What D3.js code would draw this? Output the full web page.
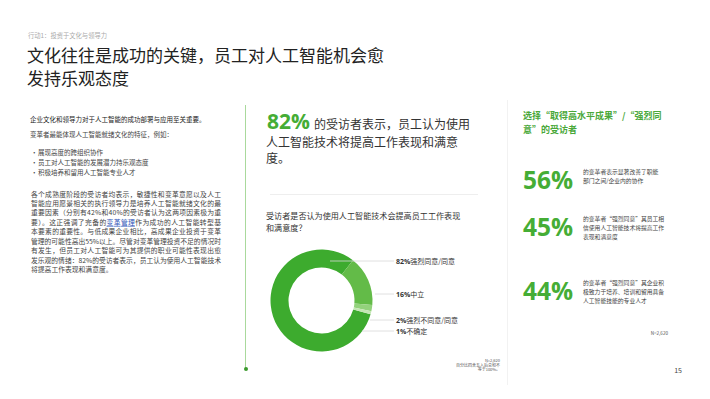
<!DOCTYPE html>
<meta charset="utf-8">
<style>
  body { margin: 0; background: #fff; }
  text { font-family: "Noto Sans CJK SC", "Noto Sans", sans-serif; }
  .num { font-family: "Open Sans", "Noto Sans", sans-serif; font-weight: 700; }
</style>
<svg width="710" height="399"></svg>
<script src="https://d3js.org/d3.v7.min.js"></script>
<script>

var svg = d3.select("svg"),
    width = 710,
    height = 399;

// ---- data ----
var donutLabels = ["强烈同意/同意", "中立", "强烈不同意/同意", "不确定"];
var donutValues = [82, 16, 2, 1];
var donutColors = ["#3dab2e", "#63bb48", "#93d27c", "#c4e6b4"];

var statValues = [56, 45, 44];
var statTexts = [
  ["的变革者表示显著改善了职能", "部门之间/企业内的协作"],
  ["的变革者“强烈同意”其员工相", "信使用人工智能技术将提高工作", "表现和满意度"],
  ["的变革者“强烈同意”其企业积", "极致力于培养、培训和留用具备", "人工智能技能的专业人才"]
];

var bullets = ["展现高度的跨组织协作", "员工对人工智能的发展潜力持乐观态度", "积极培养和留用人工智能专业人才"];
var para = [
  "各个成熟度阶段的受访者均表示，敏捷性和变革意愿以及人工",
  "智能应用愿景相关的执行领导力是培养人工智能就绪文化的最",
  "重要因素（分别有42%和40%的受访者认为这两项因素极为重",
  "要）。这正强调了完备的|变革管理|作为成功的人工智能转型基",
  "本要素的重要性。与低成果企业相比，高成果企业投资于变革",
  "管理的可能性高出55%以上。尽管对变革管理投资不足的情况时",
  "有发生，但员工对人工智能可为其提供的职业可能性表现出愈",
  "发乐观的情绪：82%的受访者表示，员工认为使用人工智能技术",
  "将提高工作表现和满意度。"
];
var footLines = ["N=2,620", "百分比四舍五入后总和不", "等于100%。"];

var green = "#45ad35";

svg.append("rect").attr("width", width).attr("height", height).attr("fill", "#fff");

// small text helper: draw at double size then scale down, so tiny fonts stay tiny
function tiny(x, y, size, txt, anchor, fill) {
  return svg.append("text")
    .attr("transform", "translate(" + x + "," + y + ") scale(0.5)")
    .attr("font-size", size * 2).attr("text-anchor", anchor || "start")
    .attr("fill", fill || "#444").text(txt);
}

// ---- header ----
tiny(28, 38, 6.3, "行动1：投资于文化与领导力", "start", "#aaa");

svg.append("text").attr("x", 27).attr("y", 62)
  .attr("font-size", 17).attr("fill", "#222")
  .text("文化往往是成功的关键，员工对人工智能机会愈");
svg.append("text").attr("x", 27).attr("y", 85)
  .attr("font-size", 17).attr("fill", "#222")
  .text("发持乐观态度");

// ---- left column ----
tiny(30, 121.5, 6.5, "企业文化和领导力对于人工智能的成功部署与应用至关重要。", "start", "#222");
tiny(30, 137, 6.5, "变革者最能体现人工智能就绪文化的特征，例如：");

bullets.forEach(function(b, i) {
  var y = 155 + i * 10.2;
  tiny(31, y, 6.5, "•");
  tiny(38, y, 6.5, b);
});

para.forEach(function(line, i) {
  var t = svg.append("text").attr("x", 31).attr("y", 196.5 + i * 9.45)
    .attr("font-size", 6.8).attr("fill", "#444");
  if (i < para.length - 1) t.attr("textLength", 190).attr("lengthAdjust", "spacing");
  line.split("|").forEach(function(part, j) {
    var s = t.append("tspan").text(part);
    if (j === 1) s.attr("fill", "#2f55b8").attr("text-decoration", "underline");
  });
});

// divider with dot
svg.append("line").attr("x1", 245.5).attr("x2", 245.5).attr("y1", 105).attr("y2", 369)
  .attr("stroke", "#a9d99c").attr("stroke-width", 1);
svg.append("circle").attr("cx", 246).attr("cy", 369).attr("r", 2).attr("fill", "#3b9a2d");

svg.append("line").attr("x1", 507.5).attr("x2", 507.5).attr("y1", 100).attr("y2", 385)
  .attr("stroke", "#f2f2f2").attr("stroke-width", 1);

// ---- middle column ----
var head = svg.append("text").attr("x", 267).attr("y", 129).attr("fill", "#333");
head.append("tspan").attr("class", "num").attr("font-size", 21).attr("fill", green).text(donutValues[0] + "%");
head.append("tspan").attr("font-size", 12).attr("dx", 4).text("的受访者表示，员工认为使用");
svg.append("text").attr("x", 266).attr("y", 147).attr("font-size", 12).attr("fill", "#333")
  .text("人工智能技术将提高工作表现和满意");
svg.append("text").attr("x", 266).attr("y", 163).attr("font-size", 12).attr("fill", "#333")
  .text("度。");

svg.append("line").attr("x1", 270).attr("x2", 478).attr("y1", 194.5).attr("y2", 194.5)
  .attr("stroke", "#eeeeee").attr("stroke-width", 1);

svg.append("text").attr("x", 266).attr("y", 218.5).attr("font-size", 8.1).attr("fill", "#333")
  .text("受访者是否认为使用人工智能技术会提高员工工作表现");
svg.append("text").attr("x", 266).attr("y", 231).attr("font-size", 8.1).attr("fill", "#333")
  .text("和满意度？");

// donut
var cx = 321.5, cy = 300.5, rOuter = 51, rInner = 33;
var pie = d3.pie().sort(null)
  .startAngle(105.7 * Math.PI / 180)
  .endAngle(105.7 * Math.PI / 180 + 2 * Math.PI);
var arc = d3.arc().innerRadius(rInner).outerRadius(rOuter);
var g = svg.append("g").attr("transform", "translate(" + cx + "," + cy + ")");
g.selectAll("path").data(pie(donutValues)).enter().append("path")
  .attr("d", arc)
  .attr("fill", function(d, i) { return donutColors[i]; });

// labels with leader lines
var labelY = [261, 294, 320, 331];
var lineX1 = [330, 375, 370, 362];
labelY.forEach(function(y, i) {
  svg.append("line").attr("x1", lineX1[i]).attr("x2", 394).attr("y1", y).attr("y2", y)
    .attr("stroke", "#d8d8d8").attr("stroke-width", 0.8);
  var t = svg.append("text").attr("x", 396).attr("y", y + 2.5).attr("font-size", 7).attr("fill", "#333");
  t.append("tspan").attr("class", "num").text(donutValues[i] + "%");
  t.append("tspan").text(donutLabels[i]);
});

// footnote
footLines.forEach(function(f, i) {
  tiny(500, 362 + i * 4.7, 4.0, f, "end", "#555");
});

// ---- right column ----
svg.append("text").attr("x", 523).attr("y", 119).attr("font-size", 9).attr("font-weight", 700)
  .attr("fill", "#4aa83a").text("选择“取得高水平成果”/“强烈同");
svg.append("text").attr("x", 523).attr("y", 133).attr("font-size", 9).attr("font-weight", 700)
  .attr("fill", "#4aa83a").text("意”的受访者");

var statY = d3.scaleOrdinal().domain(statValues.map(String)).range([189, 236, 300]);
statValues.forEach(function(v, i) {
  var by = statY(String(v));
  svg.append("text").attr("class", "num").attr("x", 523).attr("y", by)
    .attr("font-size", 24.5).attr("fill", green).text(v + "%");
  var top = by - 15.5;
  statTexts[i].forEach(function(l, j) {
    tiny(583, top + j * 9.3, 5.8, l);
  });
});

tiny(668, 335, 4.6, footLines[0], "end", "#555");

svg.append("text").attr("x", 682).attr("y", 372.5).attr("text-anchor", "end")
  .attr("font-size", 7).attr("fill", "#444").text("15");

</script>
